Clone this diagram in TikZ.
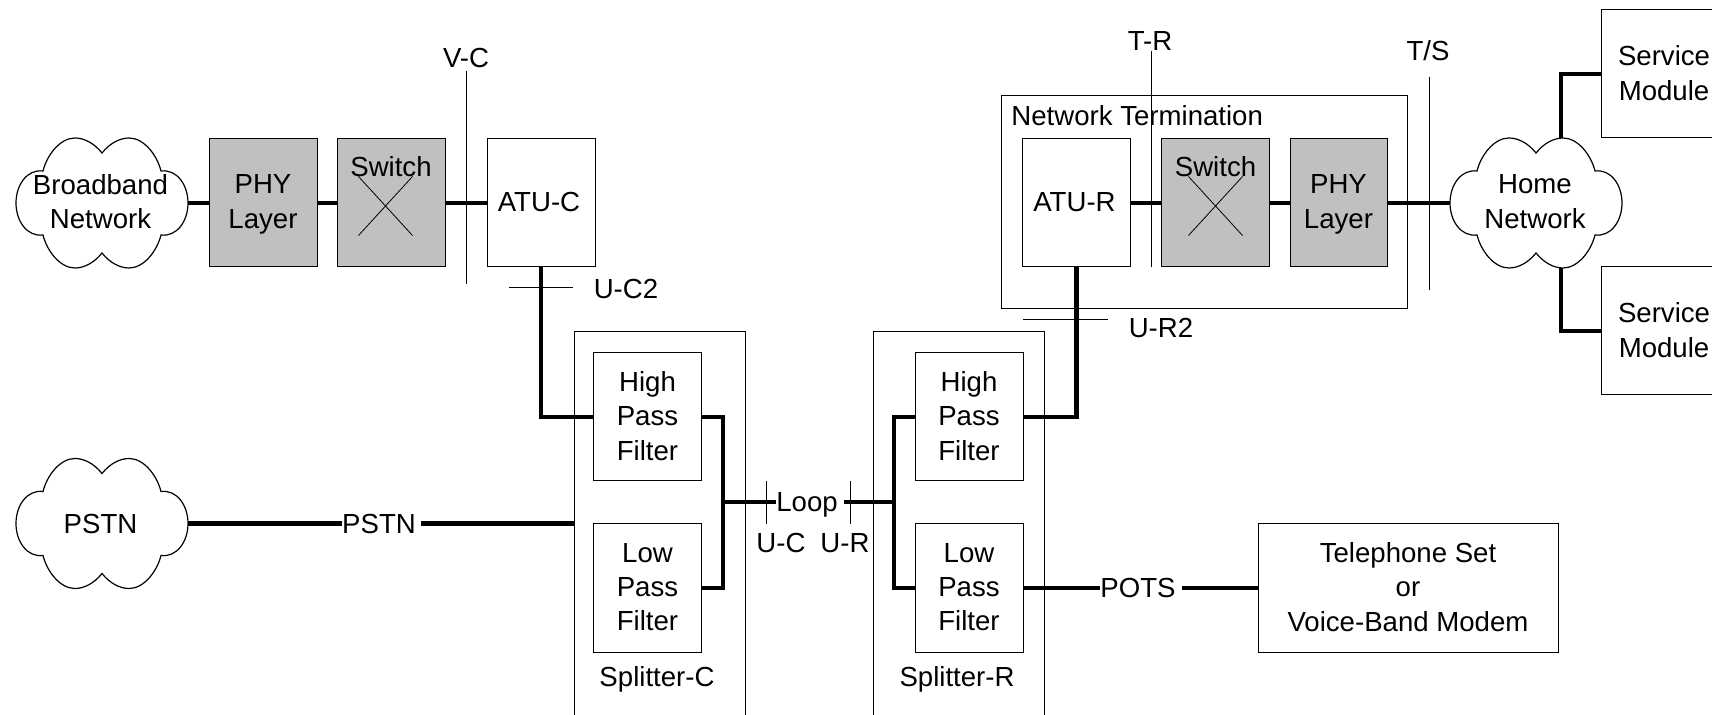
\documentclass[tikz,border=0pt]{standalone}
\usepackage{fontspec}
\setmainfont{Liberation Sans}
\newcommand{\netcloud}[1]{%
    \draw[cloudline, shift={(#1.center)}] (0,-50)
        .. controls (-8,-60) and (-18,-65) .. (-27,-65)
        .. controls (-42,-65) and (-55,-48) .. (-59,-32)
        .. controls (-75,-34) and (-86,-18) .. (-86,0)
        .. controls (-86,18) and (-75,34) .. (-59,32)
        .. controls (-55,48) and (-42,65) .. (-27,65)
        .. controls (-18,65) and (-8,60) .. (0,50)
        .. controls (8,60) and (18,65) .. (27,65)
        .. controls (42,65) and (55,48) .. (59,32)
        .. controls (75,34) and (86,18) .. (86,0)
        .. controls (86,-18) and (75,-34) .. (59,-32)
        .. controls (55,-48) and (42,-65) .. (27,-65)
        .. controls (18,-65) and (8,-60) .. (0,-50) -- cycle;%
}
\begin{document}
\begin{tikzpicture}[
    x=0.5pt, y=-0.5pt,
    every node/.style={font=\fontsize{13.8}{17.2}\selectfont, align=center, inner sep=0pt},
    blockbox/.style={rectangle, draw, line width=0.5pt, minimum width=54pt, minimum height=64pt, text depth=1pt},
    graybox/.style={blockbox, fill=phygray},
    cloudnode/.style={rectangle, minimum width=86pt, minimum height=65pt},
    cloudline/.style={line width=0.6pt},
    link/.style={line width=2.4pt},
    tickline/.style={line width=0.5pt},
    crossline/.style={line width=0.4pt}
    ]
    \definecolor{phygray}{HTML}{C0C0C0}
    \useasboundingbox (0,0) rectangle (1712,715);
    \clip (0,0) rectangle (1712,715);

    % left side
    \node[cloudnode] (broadband) at (102,203) {};
    \node (broadbandtext) at (100.5,201.5) {Broadband\\Network};
    \node[graybox] (phyc) at (263,203) {};
    \node[text depth=0pt] (phyctext) at (263,201.5) {PHY\\Layer};
    \node[graybox] (switchc) at (391,203) {};
    \node (switchctext) at (391,167) {Switch};
    \node[blockbox] (atuc) at (541,203) {};
    \node (atuctext) at (539,202.5) {ATU-C};
    \node[cloudnode] (pstn) at (102,523.5) {};
    \node (pstntext) at (100.5,523.5) {PSTN};

    % splitters
    \node[blockbox, minimum width=85.5pt, minimum height=234.5pt] (splitterc) at (659.5,566) {};
    \node[blockbox, minimum width=85.5pt, minimum height=234.5pt] (splitterr) at (958.5,566) {};
    \node[blockbox] (hpfc) at (647.5,417) {High\\Pass\\Filter};
    \node[blockbox] (lpfc) at (647.5,588) {Low\\Pass\\Filter};
    \node[blockbox] (hpfr) at (969,417) {High\\Pass\\Filter};
    \node[blockbox] (lpfr) at (969,588) {Low\\Pass\\Filter};
    \node (splitterctext) at (657,679) {Splitter-C};
    \node (splitterrtext) at (957,679) {Splitter-R};

    % right side
    \node[blockbox, minimum width=203pt, minimum height=106.5pt] (ntbox) at (1204,202.5) {};
    \node[anchor=west] (nttext) at (1011,116) {Network Termination};
    \node[blockbox] (atur) at (1076.5,203) {};
    \node (aturtext) at (1074.5,202.5) {ATU-R};
    \node[graybox] (switchr) at (1215.5,203) {};
    \node (switchrtext) at (1215.5,167) {Switch};
    \node[graybox, minimum width=48.5pt] (phyr) at (1338.5,203) {};
    \node[text depth=0pt] (phyrtext) at (1338.5,201.5) {PHY\\Layer};
    \node[cloudnode] (home) at (1536,203) {};
    \node (hometext) at (1535,201.5) {Home\\Network};
    \node[blockbox, minimum width=63pt] (servicea) at (1664,74) {Service\\Module};
    \node[blockbox, minimum width=63pt] (serviceb) at (1664,331) {Service\\Module};
    \node[blockbox, minimum width=150pt] (phone) at (1408,588) {Telephone Set\\or\\Voice-Band Modem};

    \netcloud{broadband}
    \netcloud{pstn}
    \netcloud{home}

    % line labels
    \node (pstnlabel) at (379,523.5) {PSTN};
    \node[text depth=0pt] (loop) at (807,502) {Loop};
    \node (pots) at (1138,588) {POTS};
    \node (vclabel) at (466,58) {V-C};
    \node (trlabel) at (1150,41) {T-R};
    \node (tslabel) at (1428,51) {T/S};
    \node (uc2label) at (626,289) {U-C2};
    \node (ur2label) at (1161,328) {U-R2};
    \node (uclabel) at (781,543) {U-C};
    \node (urlabel) at (845,543) {U-R};

    \coordinate (loopc) at (723,502);
    \coordinate (loopr) at (894,502);

    % thick links
    \draw[link] (broadband.east) -- (phyc.west);
    \draw[link] (phyc.east) -- (switchc.west);
    \draw[link] (switchc.east) -- (atuc.west);
    \draw[link] (atuc.south) |- (hpfc.west);
    \draw[link] (hpfc.east) -| (loopc) |- (lpfc.east);
    \draw[link] (loopc) -- (loop.west);
    \draw[link, shorten <=3pt] (loop.east) -- (loopr);
    \draw[link] (hpfr.west) -| (loopr) |- (lpfr.west);
    \draw[link] (hpfr.east) -| (atur.south);
    \draw[link] (atur.east) -- (switchr.west);
    \draw[link] (switchr.east) -- (phyr.west);
    \draw[link] (phyr.east) -- (home.west);
    \draw[link] ([xshift=12.5pt]home.north) |- (servicea.west);
    \draw[link] ([xshift=12.5pt]home.south) |- (serviceb.west);
    \draw[link] (pstn.east) -- (pstnlabel.west);
    \draw[link, shorten <=2.5pt] (pstnlabel.east) -- (pstnlabel.east -| splitterc.west);
    \draw[link] (lpfr.east) -- (pots.west);
    \draw[link, shorten <=3pt] (pots.east) -- (phone.west);

    % reference points
    \coordinate (vctop) at (466,71);
    \coordinate (vcbot) at (466,284);
    \coordinate (trtop) at (1151,51);
    \coordinate (trbot) at (1151,267);
    \coordinate (tstop) at (1429,77);
    \coordinate (tsbot) at (1429,290);
    \coordinate (uc2a) at (509,288);
    \coordinate (uc2b) at (573,288);
    \coordinate (ur2a) at (1023,320);
    \coordinate (ur2b) at (1108,320);
    \coordinate (uctop) at (766,481);
    \coordinate (ucbot) at (766,524);
    \coordinate (urtop) at (850,481);
    \coordinate (urbot) at (850,524);
    \draw[tickline] (vctop) -- (vcbot);
    \draw[tickline] (trtop) -- (trbot);
    \draw[tickline] (tstop) -- (tsbot);
    \draw[tickline] (uc2a) -- (uc2b);
    \draw[tickline] (ur2a) -- (ur2b);
    \draw[tickline] (uctop) -- (ucbot);
    \draw[tickline] (urtop) -- (urbot);

    % crosses of the switches
    \foreach \switchname/\crossdx in {switchc/-5.5, switchr/0} {
        \draw[crossline] ([shift={(\crossdx-27,-26.5)}]\switchname.center) -- ([shift={(\crossdx+27,32.5)}]\switchname.center);
        \draw[crossline] ([shift={(\crossdx+27,-26.5)}]\switchname.center) -- ([shift={(\crossdx-27,32.5)}]\switchname.center);
    }
\end{tikzpicture}
\end{document}
